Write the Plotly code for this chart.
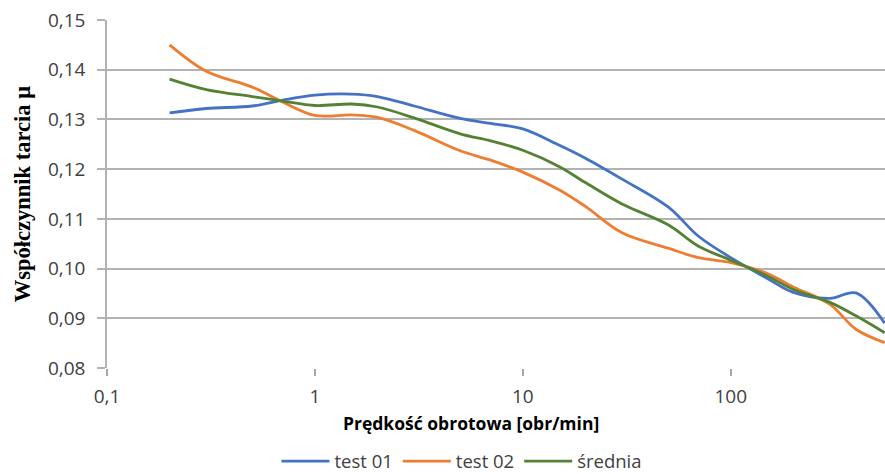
import plotly.graph_objects as go

speed = [0.2, 0.3, 0.5, 0.7, 1, 1.5, 2, 3, 5, 7, 10, 15, 20, 30, 50, 70, 100, 150, 200, 300, 400, 550]
test01 = [0.1313, 0.1322, 0.1327, 0.1339, 0.1349, 0.1351, 0.1346, 0.1327, 0.1302, 0.1292, 0.1281,
          0.1248, 0.1222, 0.1180, 0.1124, 0.1065, 0.1022, 0.0980, 0.0952, 0.0940, 0.0951, 0.0890]
test02 = [0.1450, 0.1397, 0.1365, 0.1335, 0.1308, 0.1309, 0.1304, 0.1278, 0.1237, 0.1218, 0.1194,
          0.1158, 0.1125, 0.1072, 0.1041, 0.1022, 0.1012, 0.0990, 0.0963, 0.0928, 0.0878, 0.0851]
srednia = [0.1381, 0.1360, 0.1346, 0.1337, 0.1328, 0.1331, 0.1325, 0.1303, 0.1271, 0.1257, 0.1238,
           0.1205, 0.1173, 0.1130, 0.1088, 0.1045, 0.1017, 0.0985, 0.0958, 0.0932, 0.0905, 0.0871]

series_names = ["test 01", "test 02", "średnia"]
colors = ["#4472C4", "#ED7D31", "#548235"]
x_tickvals = [0.1, 1, 10, 100]
x_ticktext = ["0,1", "1", "10", "100"]
y_tickvals = [0.08, 0.09, 0.10, 0.11, 0.12, 0.13, 0.14, 0.15]

fig = go.Figure()
for name, ys, c in zip(series_names, [test01, test02, srednia], colors):
    fig.add_trace(go.Scatter(x=speed, y=ys, name=name, mode="lines",
                             line=dict(color=c, width=2.8, shape="spline", smoothing=1.0)))

fig.update_layout(
    width=885, height=474,
    margin=dict(l=107, r=0, t=20, b=106, autoexpand=False),
    paper_bgcolor="white", plot_bgcolor="white",
    separators=", ",
    font=dict(family="Open Sans", size=16, color="#404040"),
    legend=dict(orientation="h", xref="container", yref="container",
                x=0.522, xanchor="center", y=0.026, yanchor="middle",
                font=dict(size=18.5, color="#404040"), itemwidth=48, tracegroupgap=0),
    xaxis=dict(type="log", range=[-1, 2.742], tickvals=x_tickvals, ticktext=x_ticktext,
               showgrid=False, zeroline=False, showline=False,
               ticks="outside", ticklen=7, tickcolor="#a6a6a6", tickwidth=1.5,
               ticklabelstandoff=4,
               tickfont=dict(size=19, color="#404040")),
    yaxis=dict(range=[0.08, 0.15], tickvals=y_tickvals, tickformat=".2f",
               showgrid=True, gridcolor="#b3b3b3", gridwidth=1.5, zeroline=False,
               showline=True, linecolor="#b3b3b3", linewidth=1.5,
               ticks="outside", ticklen=8, tickcolor="#b3b3b3", tickwidth=1.5,
               ticklabelstandoff=8,
               tickfont=dict(size=19, color="#404040")),
    annotations=[
        dict(text="<b>Prędkość obrotowa [obr/min]</b>", xref="paper", yref="paper",
             x=0.468, y=-0.158, xanchor="center", yanchor="middle", showarrow=False,
             font=dict(family="Open Sans", size=17.5, color="#000000")),
        dict(text="<b>Współczynnik tarcia μ</b>", xref="paper", yref="paper",
             x=-0.109, y=0.5, xanchor="center", yanchor="middle", showarrow=False, textangle=-90,
             font=dict(family="Liberation Serif", size=22.5, color="#000000")),
    ],
)

fig.write_html("out.html")
